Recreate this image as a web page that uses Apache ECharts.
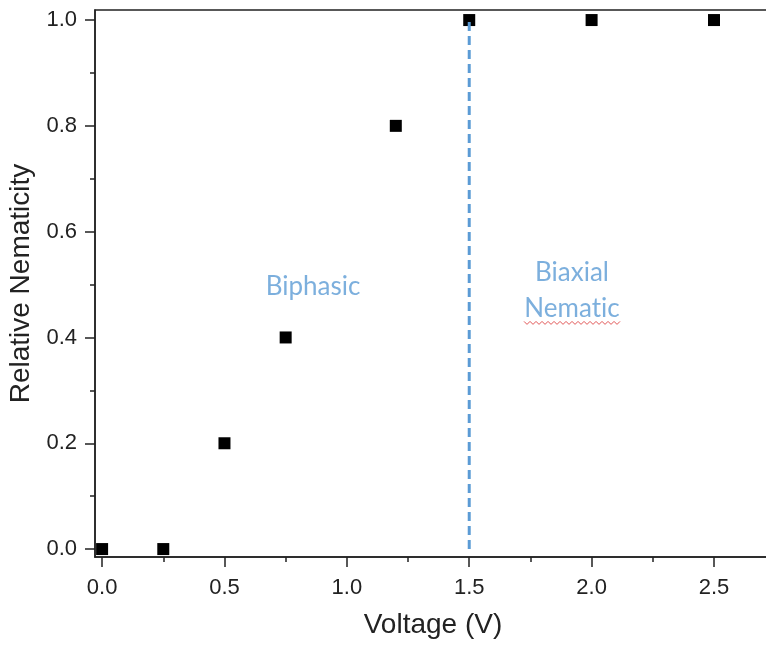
<!DOCTYPE html>
<html>
<head>
<meta charset="utf-8">
<script src="https://cdn.jsdelivr.net/npm/echarts@6/dist/echarts.min.js"></script>
<style>
  html, body { margin: 0; padding: 0; background: #fff; }
  #chart { width: 766px; height: 646px; }
</style>
</head>
<body>
<div id="chart"></div>
<script>
// 측정값
const voltage = [0, 0.25, 0.5, 0.75, 1.2, 1.5, 2.0, 2.5];
const nematicity = [0, 0, 0.2, 0.4, 0.8, 1.0, 1.0, 1.0];

// 눈금
const xMajorTicks = [0, 0.5, 1.0, 1.5, 2.0, 2.5];
const xMinorTicks = [0.25, 0.75, 1.25, 1.75, 2.25];
const yMajorTicks = [0, 0.2, 0.4, 0.6, 0.8, 1.0];
const yMinorTicks = [0.1, 0.3, 0.5, 0.7, 0.9];

// 구간 경계선 (전압 1.5 V)
const boundaryX = 1.5;
const boundaryY = [0, 1.0];

// 영역 주석
const regionNames = ['Biphasic', 'Biaxial', 'Nematic'];
const regionX = [0.862, 1.92, 1.92];
const regionY = [0.497, 0.522, 0.454];

const FONT = '"Liberation Sans", Arial, sans-serif';
const AXIS_COLOR = '#222';
const BLUE = '#5b9bd5';

const xRange = { min: -0.029, max: 2.733 };
const yRange = { min: -0.015, max: 1.019 };

const chart = echarts.init(document.getElementById('chart'));

const minorAxis = {
    axisLine: { show: false, onZero: false },
    axisLabel: { show: false },
    splitLine: { show: false }
};

const option = {
    animation: false,
    grid: {
        left: 95, right: -5, top: 10, bottom: 89,
        outerBoundsMode: 'none',
        show: true, borderColor: AXIS_COLOR, borderWidth: 1.5
    },
    xAxis: [{
        type: 'value', ...xRange,
        name: 'Voltage (V)',
        nameLocation: 'middle',
        nameGap: 54,
        nameTextStyle: { fontFamily: FONT, fontSize: 28, color: AXIS_COLOR },
        axisLine: { show: true, onZero: false, lineStyle: { color: AXIS_COLOR, width: 1.5 } },
        axisTick: { show: true, inside: false, length: 10, customValues: xMajorTicks,
            lineStyle: { color: AXIS_COLOR, width: 1.5 } },
        axisLabel: { margin: 20, fontFamily: FONT, fontSize: 22, color: AXIS_COLOR,
            customValues: xMajorTicks, formatter: v => v.toFixed(1) },
        splitLine: { show: false }
    }, {
        type: 'value', ...xRange, position: 'bottom', ...minorAxis,
        axisTick: { show: true, length: 5, customValues: xMinorTicks,
            lineStyle: { color: AXIS_COLOR, width: 1.5 } }
    }],
    yAxis: [{
        type: 'value', ...yRange,
        name: 'Relative Nematicity',
        nameLocation: 'middle',
        nameGap: 56,
        nameRotate: 90,
        nameTextStyle: { fontFamily: FONT, fontSize: 28, color: AXIS_COLOR },
        axisLine: { show: true, onZero: false, lineStyle: { color: AXIS_COLOR, width: 1.5 } },
        axisTick: { show: true, inside: false, length: 10, customValues: yMajorTicks,
            lineStyle: { color: AXIS_COLOR, width: 1.5 } },
        axisLabel: { margin: 18, fontFamily: FONT, fontSize: 22, color: AXIS_COLOR,
            customValues: yMajorTicks, formatter: v => v.toFixed(1) },
        splitLine: { show: false }
    }, {
        type: 'value', ...yRange, position: 'left', ...minorAxis,
        axisTick: { show: true, length: 5, customValues: yMinorTicks,
            lineStyle: { color: AXIS_COLOR, width: 1.5 } }
    }],
    series: [{
        // 경계 점선
        type: 'line',
        data: boundaryY.map(y => [boundaryX, y]),
        symbol: 'none',
        lineStyle: { color: BLUE, width: 3, type: [9, 5] },
        z: 3
    }, {
        type: 'scatter',
        data: voltage.map((v, i) => [v, nematicity[i]]),
        symbol: 'rect',
        symbolSize: 12,
        itemStyle: { color: '#000', opacity: 1 },
        z: 2
    }, {
        // 영역 이름 (ti 합자 방지)
        type: 'scatter',
        data: regionNames.map((name, i) => ({ value: [regionX[i], regionY[i]], name })),
        symbolSize: 0,
        label: {
            show: true, position: 'inside',
            formatter: p => p.name.replace('ti', 't\u200Ci'),
            fontFamily: 'Lato, "Open Sans", sans-serif', fontSize: 26, color: BLUE
        },
        silent: true,
        z: 4
    }]
};

chart.setOption(option);

// 'Nematic' 아래 맞춤법 물결선
const [nx, ny] = chart.convertToPixel({ gridIndex: 0 }, [regionX[2], regionY[2]]);
const squiggle = [];
for (let i = 0; i <= 32; i++) {
    squiggle.push([nx - 48 + i * 3, ny + 14 + (i % 2 ? 1.5 : -1.5)]);
}
chart.setOption({
    graphic: [{
        type: 'polyline', silent: true, z: 5,
        shape: { points: squiggle },
        style: { stroke: '#e05555', lineWidth: 1, fill: null }
    }]
});

window.addEventListener('resize', () => chart.resize());
</script>
</body>
</html>
